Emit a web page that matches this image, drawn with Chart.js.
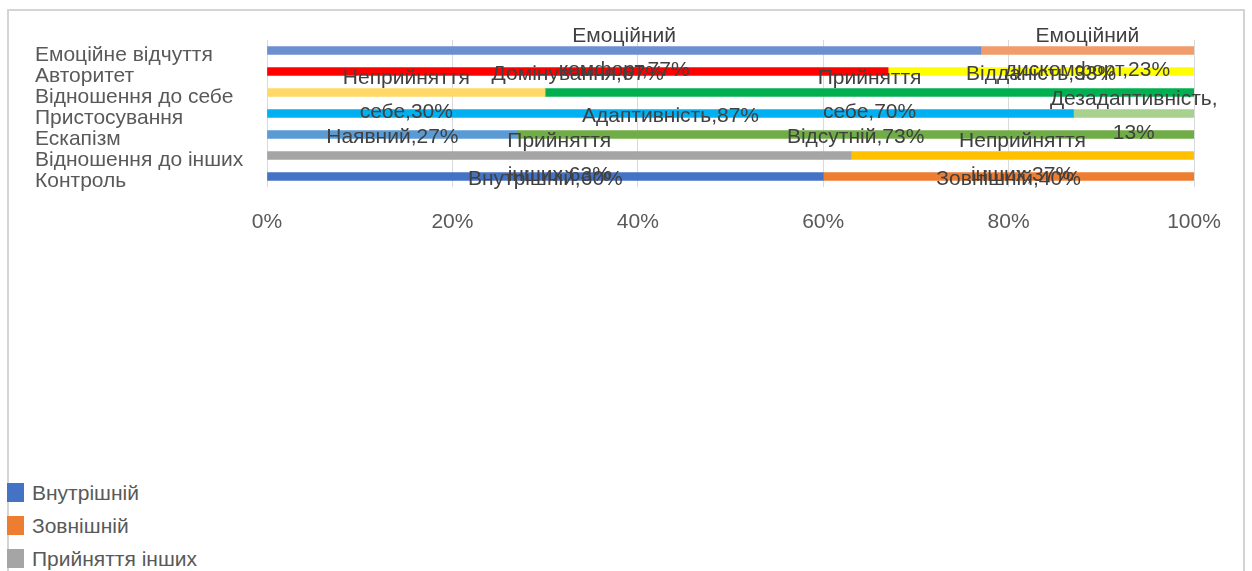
<!DOCTYPE html>
<html lang="uk">
<head>
<meta charset="utf-8">
<title>Структура показників</title>
<script src="https://cdn.jsdelivr.net/npm/chart.js@4/dist/chart.umd.min.js"></script>
<style>
  html, body { margin: 0; padding: 0; background: #ffffff; overflow: hidden; }
  body { width: 1252px; height: 571px; position: relative; font-family: "Liberation Sans", Arial, sans-serif; }
  #frame { position: absolute; left: 7px; top: 9px; width: 1238px; height: 700px;
           border: 2px solid #d4d4d4; border-bottom: none; box-sizing: border-box; }
  #chartBox { position: absolute; left: 0; top: 0; width: 1252px; height: 240px; }
  #legend { position: absolute; left: 7px; top: 476px; }
  .item { display: flex; align-items: center; height: 33px; font-size: 21px; color: #595959; }
  .swatch { width: 17px; height: 19px; margin-right: 8px; }
</style>
</head>
<body>
<div id="frame"></div>
<div id="chartBox"><canvas id="chart" width="1252" height="240"></canvas></div>
<div id="legend"></div>
<script>
// Rows, top to bottom
const categories = ['Емоційне відчуття', 'Авторитет', 'Відношення до себе', 'Пристосування', 'Ескапізм', 'Відношення до інших', 'Контроль'];

// Left-hand part of each row
const leftNames = ['Емоційний комфорт', 'Домінування', 'Неприйняття себе', 'Адаптивність', 'Наявний', 'Прийняття інших', 'Внутрішній'];
const leftValues = [77, 67, 30, 87, 27, 63, 60];

// Right-hand part of each row
const rightNames = ['Емоційний дискомфорт', 'Відданість', 'Прийняття себе', 'Дезадаптивність', 'Відсутній', 'Неприйняття інших', 'Зовнішній'];
const rightValues = [23, 33, 70, 13, 73, 37, 40];

const xTicks = [0, 20, 40, 60, 80, 100];

// Segment colours
const leftColors = ['#6c8fd0', '#ff0000', '#ffd966', '#00b0f0', '#5b9bd5', '#a5a5a5', '#4472c4'];
const rightColors = ['#f29b6b', '#ffff00', '#00b050', '#a9d18e', '#70ad47', '#ffc000', '#ed7d31'];

const FONT = '"Liberation Sans", Arial, sans-serif';

// One dataset per segment, bottom row first so the legend starts with «Контроль»
function rowData(i, v) {
  return categories.map((_, k) => (k === i ? v : null));
}
const datasets = [];
for (let i = categories.length - 1; i >= 0; i--) {
  datasets.push({ label: leftNames[i], data: rowData(i, leftValues[i]), backgroundColor: leftColors[i] });
  datasets.push({ label: rightNames[i], data: rowData(i, rightValues[i]), backgroundColor: rightColors[i] });
}

// Split a label into one or two lines, as the long ones wrap
function labelLines(ctx, name, value) {
  const full = name + ',' + value + '%';
  if (ctx.measureText(full).width <= 198) return [full];
  const sp = name.indexOf(' ');
  if (sp > 0) return [name.slice(0, sp), name.slice(sp + 1) + ',' + value + '%'];
  return [name + ',', value + '%'];
}

const segmentLabels = {
  id: 'segmentLabels',
  afterDatasetsDraw(chart) {
    const ctx = chart.ctx;
    ctx.save();
    ctx.font = '21px ' + FONT;
    ctx.fillStyle = '#404040';
    ctx.textAlign = 'center';
    ctx.textBaseline = 'middle';
    chart.data.datasets.forEach((ds, di) => {
      const meta = chart.getDatasetMeta(di);
      meta.data.forEach((bar, i) => {
        const v = ds.data[i];
        if (v === null || v === undefined) return;
        const p = bar.getProps(['x', 'y', 'base'], true);
        const cx = (p.x + p.base) / 2;
        const lines = labelLines(ctx, ds.label, v);
        if (lines.length === 1) {
          ctx.fillText(lines[0], cx, p.y + 3);
        } else {
          ctx.fillText(lines[0], cx, p.y - 14);
          ctx.fillText(lines[1], cx, p.y + 20);
        }
      });
    });
    ctx.restore();
  }
};

const chart = new Chart(document.getElementById('chart'), {
  type: 'bar',
  data: { labels: categories, datasets },
  options: {
    indexAxis: 'y',
    responsive: false,
    animation: false,
    layout: { padding: { left: 35, top: 40, right: 58, bottom: 0 } },
    datasets: { bar: { barThickness: 8, skipNull: true } },
    scales: {
      x: {
        stacked: true,
        min: 0,
        max: 100,
        afterBuildTicks(scale) { scale.ticks = xTicks.map(v => ({ value: v })); },
        afterFit(scale) { scale.height = 53; },
        grid: { color: '#d9d9d9', lineWidth: 1, drawTicks: false },
        border: { display: false },
        ticks: {
          padding: 23,
          color: '#595959',
          font: { family: FONT, size: 21 },
          callback: v => v + '%'
        }
      },
      y: {
        stacked: true,
        afterFit(scale) { scale.width = 232; },
        grid: { display: false, drawTicks: false },
        border: { display: false },
        ticks: {
          crossAlign: 'far',
          padding: 0,
          labelOffset: 5,
          autoSkip: false,
          color: '#595959',
          font: { family: FONT, size: 21, lineHeight: 1 }
        }
      }
    },
    plugins: {
      legend: { display: false },
      tooltip: { enabled: false }
    }
  },
  plugins: [segmentLabels]
});

// Legend list built from the chart's datasets
const legendEl = document.getElementById('legend');
chart.data.datasets.forEach(ds => {
  const row = document.createElement('div');
  row.className = 'item';
  const sw = document.createElement('span');
  sw.className = 'swatch';
  sw.style.background = ds.backgroundColor;
  const txt = document.createElement('span');
  txt.textContent = ds.label;
  row.appendChild(sw);
  row.appendChild(txt);
  legendEl.appendChild(row);
});
</script>
</body>
</html>
